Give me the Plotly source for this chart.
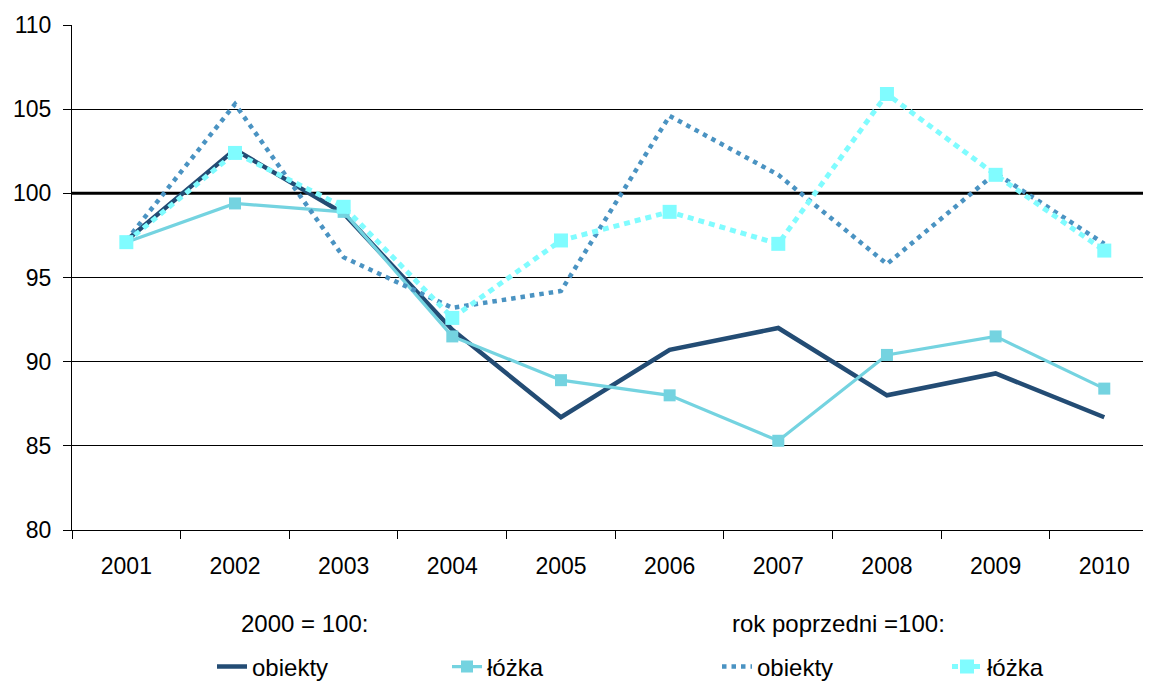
import plotly.graph_objects as go

years = ["2001", "2002", "2003", "2004", "2005", "2006", "2007", "2008", "2009", "2010"]

obiekty_2000 = [97.2, 102.6, 98.8, 91.9, 86.7, 90.7, 92.0, 88.0, 89.3, 86.7]
lozka_2000 = [97.1, 99.4, 98.9, 91.5, 88.9, 88.0, 85.3, 90.4, 91.5, 88.4]
obiekty_prev = [97.2, 105.3, 96.2, 93.2, 94.2, 104.6, 101.1, 95.8, 101.2, 97.0]
lozka_prev = [97.1, 102.4, 99.2, 92.6, 97.2, 98.9, 97.0, 105.9, 101.1, 96.6]

header_left = "2000 = 100:"
header_right = "rok poprzedni =100:"

FONT = "Liberation Sans, Arial, sans-serif"
FS_TICK = 23
FS_LEG = 24
OFF = 8  # page body margin
W, H = 1151 - OFF, 690 - OFF
L, T, R = 72 - OFF, 25 - OFF, 0
B = H - (541 - OFF)
pw = W - L - R
ph = H - T - B


def px_x(px):
    # px: image pixel x
    return (px - OFF - L) / pw


def px_y(py):
    # py: image pixel y
    return (H - B - (py - OFF)) / ph


fig = go.Figure()

fig.add_trace(go.Scatter(
    x=years, y=obiekty_2000, name="obiekty", mode="lines",
    line=dict(color="#234C74", width=4.5), legend="legend"))
fig.add_trace(go.Scatter(
    x=years, y=lozka_2000, name="łóżka", mode="lines+markers",
    line=dict(color="#74D3E0", width=3.2),
    marker=dict(symbol="square", size=12, color="#74D3E0"), legend="legend2"))
fig.add_trace(go.Scatter(
    x=years, y=obiekty_prev, name="obiekty", mode="lines",
    line=dict(color="#4A93C2", width=4.5, dash="4.5px,5px"), legend="legend3"))
fig.add_trace(go.Scatter(
    x=years, y=lozka_prev, name="łóżka", mode="lines+markers",
    line=dict(color="#80FCFF", width=5, dash="6px,5px"),
    marker=dict(symbol="square", size=14, color="#80FCFF"), legend="legend4"))

fig.add_shape(type="line", xref="paper", yref="y", x0=0, x1=1, y0=100, y1=100,
              line=dict(color="black", width=3), layer="between")

legend_common = dict(orientation="h", yanchor="middle", xanchor="left",
                     font=dict(family=FONT, size=FS_LEG, color="black"),
                     bgcolor="rgba(0,0,0,0)", borderwidth=0)

y_leg = px_y(681)
fig.update_layout(
    legend=dict(x=px_x(212), y=y_leg, **legend_common),
    legend2=dict(x=px_x(447), y=y_leg, **legend_common),
    legend3=dict(x=px_x(717), y=y_leg, **legend_common),
    legend4=dict(x=px_x(947), y=y_leg, **legend_common),
)

fig.add_annotation(text=header_left, xref="paper", yref="paper",
                   x=px_x(304), y=px_y(637), xanchor="center", yanchor="middle",
                   showarrow=False,
                   font=dict(family=FONT, size=FS_LEG, color="black"))
fig.add_annotation(text=header_right, xref="paper", yref="paper",
                   x=px_x(838), y=px_y(637), xanchor="center", yanchor="middle",
                   showarrow=False,
                   font=dict(family=FONT, size=FS_LEG, color="black"))

fig.update_layout(
    width=W, height=H,
    margin=dict(l=L, r=R, t=T, b=B, pad=0),
    paper_bgcolor="white", plot_bgcolor="white",
    font=dict(family=FONT, size=FS_TICK, color="black"),
    showlegend=True,
    xaxis=dict(type="category", range=[-0.5, 9.43], showgrid=False,
               showline=True, linecolor="black", linewidth=1,
               ticks="outside", ticklen=8, tickcolor="black", tickwidth=1,
               tickson="boundaries", ticklabelstandoff=15,
               tickfont=dict(family=FONT, size=FS_TICK, color="black"),
               zeroline=False, automargin=False),
    yaxis=dict(range=[80, 110], dtick=5, showgrid=True, gridcolor="black",
               gridwidth=1, showline=True, linecolor="black", linewidth=1,
               ticks="outside", ticklen=8, tickcolor="black", tickwidth=1,
               ticklabelstandoff=7,
               tickfont=dict(family=FONT, size=FS_TICK, color="black"),
               zeroline=False, automargin=False),
)

fig.write_html("out.html", config={"displayModeBar": False})
